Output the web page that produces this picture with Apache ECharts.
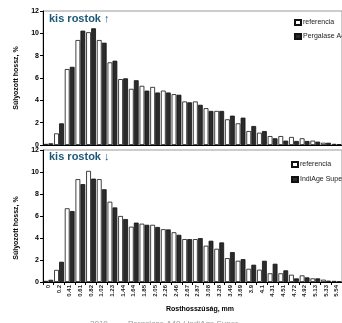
<!DOCTYPE html>
<html>
<head>
<meta charset="utf-8">
<script src="https://cdn.jsdelivr.net/npm/echarts@6/dist/echarts.min.js"></script>
<style>
  html, body { margin: 0; padding: 0; background: #fff; }
</style>
</head>
<body>
<div id="chart" style="width: 342px; height: 323px"></div>
<script>
// rosthossz osztályok (mm)
const categories = ["0", "0.2", "0.41", "0.61", "0.82", "1.02", "1.23", "1.44", "1.64", "1.85",
    "2.05", "2.26", "2.46", "2.67", "2.87", "3.08", "3.28", "3.49", "3.69", "3.9",
    "4.1", "4.31", "4.51", "4.72", "4.92", "5.13", "5.33", "5.54"];
const yTicks = [0, 2, 4, 6, 8, 10, 12];

// felső panel
const refUp = [0.1, 1.04, 6.8, 9.4, 10.1, 9.4, 7.4, 5.9, 5.03, 5.3, 5.2, 4.87, 4.55, 3.9, 3.9, 3.3, 3.05, 2.3,
    1.94, 1.25, 1.1, 0.8, 0.8, 0.72, 0.6, 0.39, 0.2, 0.1];
const pergUp = [0.15, 1.94, 7.0, 10.24, 10.45, 9.16, 7.55, 5.97, 5.8, 4.87, 4.7, 4.7, 4.5, 3.82, 3.6, 3.05, 3.05, 2.63,
    2.45, 1.7, 1.25, 0.6, 0.39, 0.36, 0.36, 0.3, 0.2, 0.08];

// alsó panel
const refLow = [0.1, 1.1, 6.7, 9.35, 10.1, 9.35, 7.3, 6.0, 5.03, 5.3, 5.2, 4.8, 4.52, 3.9, 3.9, 3.3, 3.02, 2.17,
    1.93, 1.2, 1.12, 0.79, 0.79, 0.66, 0.6, 0.33, 0.21, 0.1];
const indiLow = [0.2, 1.84, 6.45, 8.9, 9.4, 8.43, 6.78, 5.72, 5.4, 5.2, 5.0, 4.78, 4.29, 3.9, 3.99, 3.75, 3.6, 2.72,
    2.08, 1.57, 1.93, 1.66, 1.06, 0.33, 0.42, 0.33, 0.12, 0.05];

const chart = echarts.init(document.getElementById("chart"));

const font = "Liberation Sans, Arial, sans-serif";
const titleColor = "#1d5878";

const whiteStyle = { color: "#ffffff", borderColor: "#111", borderWidth: 0.8 };
const blackStyle = { color: "#2b2b2b", borderColor: "#111", borderWidth: 0.8 };

function yAxis(gridIndex) {
    return {
        type: "value",
        gridIndex: gridIndex,
        min: yTicks[0],
        max: yTicks[yTicks.length - 1],
        interval: 2,
        splitLine: { show: false },
        axisLine: { show: true, lineStyle: { color: "#000", width: 1 } },
        axisTick: { show: true, length: 3, lineStyle: { color: "#000" } },
        axisLabel: { fontSize: 7, fontWeight: "bold", color: "#000", margin: 4, fontFamily: font },
    };
}

function xAxis(gridIndex, showLabels) {
    return {
        type: "category",
        gridIndex: gridIndex,
        data: categories,
        axisLine: { show: true, lineStyle: { color: "#000", width: 1 } },
        axisTick: { show: showLabels, length: 3, lineStyle: { color: "#000" } },
        axisLabel: {
            show: showLabels,
            rotate: 90,
            interval: 0,
            fontSize: 6,
            fontWeight: "bold",
            color: "#222",
            margin: 3,
            fontFamily: font,
        },
    };
}

function barSeries(name, data, idx, style) {
    return {
        name: name,
        type: "bar",
        xAxisIndex: idx,
        yAxisIndex: idx,
        data: data,
        barWidth: 4.8,
        barGap: "4%",
        itemStyle: style,
        silent: true,
        animation: false,
    };
}

const option = {
    animation: false,
    textStyle: { fontFamily: font },
    grid: [
        { left: 43, top: 11, width: 305, height: 134, show: true, borderColor: "#999", borderWidth: 1 },
        { left: 43, top: 150, width: 305, height: 132, show: true, borderColor: "#999", borderWidth: 1 },
    ],
    title: [
        {
            text: "kis rostok ↑",
            left: 49, top: 13, padding: 0,
            textStyle: { fontSize: 11, fontWeight: "bold", color: titleColor, fontFamily: font },
        },
        {
            text: "kis rostok ↓",
            left: 49, top: 151, padding: 0,
            textStyle: { fontSize: 11, fontWeight: "bold", color: titleColor, fontFamily: font },
        },
    ],
    legend: [
        {
            data: ["referencia", "Pergalase A40"],
            orient: "vertical",
            left: 294, top: 19, padding: 0,
            icon: "rect",
            itemWidth: 6, itemHeight: 5, itemGap: 7,
            selectedMode: false,
            textStyle: { fontSize: 7, color: "#222", fontFamily: font, padding: [0, 0, 0, -3] },
        },
        {
            data: ["referencia", "IndiAge Super"],
            orient: "vertical",
            left: 291, top: 161, padding: 0,
            icon: "rect",
            itemWidth: 6, itemHeight: 5, itemGap: 8,
            selectedMode: false,
            textStyle: { fontSize: 7, color: "#222", fontFamily: font, padding: [0, 0, 0, -3] },
        },
    ],
    xAxis: [xAxis(0, false), xAxis(1, true)],
    yAxis: [yAxis(0), yAxis(1)],
    series: [
        barSeries("referencia", refUp, 0, whiteStyle),
        barSeries("Pergalase A40", pergUp, 0, blackStyle),
        barSeries("referencia", refLow, 1, whiteStyle),
        barSeries("IndiAge Super", indiLow, 1, blackStyle),
    ],
    graphic: [
        {
            type: "text", x: 16, y: 78, rotation: Math.PI / 2,
            style: { text: "Súlyozott hossz, %", fontSize: 7, fontWeight: "bold", fill: "#000",
                align: "center", verticalAlign: "middle", fontFamily: font },
        },
        {
            type: "text", x: 16, y: 228, rotation: Math.PI / 2,
            style: { text: "Súlyozott hossz, %", fontSize: 7, fontWeight: "bold", fill: "#000",
                align: "center", verticalAlign: "middle", fontFamily: font },
        },
        {
            type: "text", x: 200, y: 309,
            style: { text: "Rosthosszúság, mm", fontSize: 7, fontWeight: "bold", fill: "#000",
                align: "center", verticalAlign: "middle", fontFamily: font },
        },
        // alsó, levágott felirat
        {
            type: "text", x: 90, y: 320,
            style: { text: "2010", fontSize: 8, fill: "#999", fontFamily: font },
        },
        {
            type: "text", x: 128, y: 320,
            style: { text: "Pergalase A40 / IndiAge Super", fontSize: 8, fill: "#999", fontFamily: font },
        },
    ],
};

chart.setOption(option);
</script>
</body>
</html>
